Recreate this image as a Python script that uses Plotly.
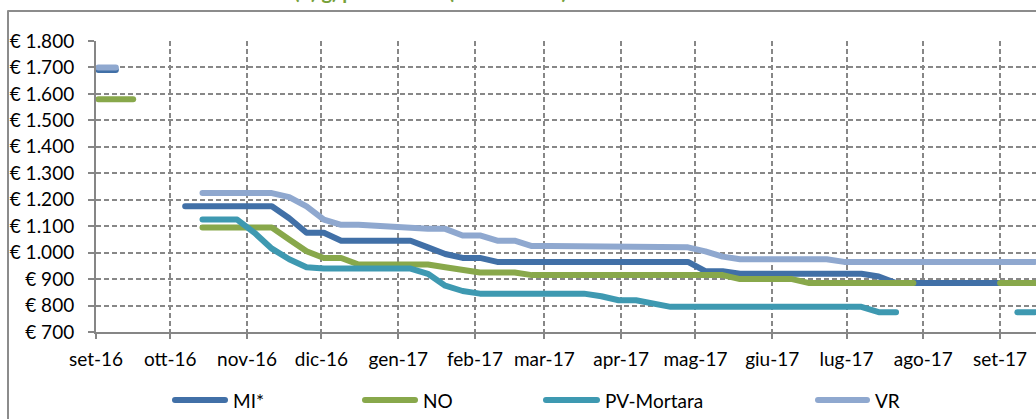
import plotly.graph_objects as go
import pandas as pd

# ---- data (weekly quotations, Fridays) ----
dates = pd.date_range("2016-09-02", periods=55, freq="7D")
N = None
mi = [1690, 1690, N, N, N,
      1175, 1175, 1175, 1175, 1175, 1175,
      1130, 1075, 1075, 1045, 1045, 1045, 1045, 1045,
      1020, 995, 980, 980,
      965, 965, 965, 965, 965, 965, 965, 965, 965, 965, 965, 965,
      930, 930,
      920, 920, 920, 920, 920, 920, 920, 920,
      910,
      885, 885, 885, 885, 885, 885, 885, 885, 885]
no = [1580, 1580, 1580, N, N, N,
      1095, 1095, 1095, 1095, 1095,
      1050, 1005, 980, 980,
      955, 955, 955, 955, 955,
      945, 933, 925, 925, 925,
      915, 915, 915, 915, 915, 915, 915, 915, 915, 915, 915, 915,
      900, 900, 900, 900,
      885, 885, 885, 885, 885, 885, 885,
      N, N, N, N,
      885, 885, 885]
pv = [N, N, N, N, N, N,
      1125, 1125, 1125,
      1075, 1015, 975, 945,
      940, 940, 940, 940, 940, 940,
      920, 875, 855,
      845, 845, 845, 845, 845, 845, 845,
      835, 820, 820, 808,
      795, 795, 795, 795, 795, 795, 795, 795, 795, 795, 795, 795,
      775, 775,
      N, N, N, N, N, N,
      775, 775]
vr = [1700, 1700, N, N, N, N,
      1225, 1225, 1225, 1225, 1225,
      1210, 1175, 1125, 1105, 1105, 1100, 1095, 1090, 1090, 1090,
      1065, 1065, 1045, 1045,
      1025, 1025, 1025, 1025, 1025, 1025, 1025, 1025, 1025,
      1020, 1005, 985,
      975, 975, 975, 975, 975, 975,
      965, 965, 965, 965, 965, 965, 965, 965, 965, 965, 965, 965]

series_names = ["MI*", "NO", "PV-Mortara", "VR"]
series_values = [mi, no, pv, vr]
series_colors = ["#4170A7", "#88A84B", "#3E99B1", "#8FA8CF"]

month_ticks = pd.date_range("2016-09-01", "2017-09-01", freq="MS")
month_labels = ["set-16", "ott-16", "nov-16", "dic-16", "gen-17", "feb-17", "mar-17",
                "apr-17", "mag-17", "giu-17", "lug-17", "ago-17", "set-17"]

title_text = "(€) g) prezzi medi (Borse Merci)"

# ---- layout geometry (pixels) ----
W, H = 1036, 419
L, R, T, B = 96, 0, 41, 87
PW, PH = W - L - R, H - T - B

def px_x(px):
    return (px - L) / PW

def px_y(py):
    return (H - B - py) / PH

FONT = "Lato, Carlito, Calibri, sans-serif"
GRID = "#878787"
AX = "#868686"

fig = go.Figure()
for name, vals, col in zip(series_names, series_values, series_colors):
    fig.add_trace(go.Scatter(
        x=dates, y=vals, name=name, mode="lines",
        line=dict(color=col, width=6), connectgaps=False,
        showlegend=False, hoverinfo="skip"))

# manual legend (long line samples like the original)
leg_lines = [(175, 225, 231), (365, 415, 421), (546, 597, 603), (818, 867, 873)]
shapes = []
annotations = []
for (x0, x1, xt), name, col in zip(leg_lines, series_names, series_colors):
    shapes.append(dict(type="line", xref="paper", yref="paper",
                       x0=px_x(x0), x1=px_x(x1), y0=px_y(400), y1=px_y(400),
                       line=dict(color=col, width=6)))
    annotations.append(dict(xref="paper", yref="paper", x=px_x(xt), y=px_y(400),
                            xanchor="left", yanchor="middle", showarrow=False,
                            text=name, font=dict(family=FONT, size=19, color="#000000")))

# outer chart border (cropped on right and bottom)
shapes.append(dict(type="rect", xref="paper", yref="paper",
                   x0=px_x(8), x1=px_x(1060), y0=px_y(11), y1=px_y(440),
                   line=dict(color="#8C8C8C", width=2), fillcolor="rgba(0,0,0,0)",
                   layer="below"))

# title (mostly outside the visible area, as in the reference)
annotations.append(dict(xref="paper", yref="paper", x=px_x(292), y=px_y(5),
                        xanchor="left", yanchor="bottom", showarrow=False,
                        text="<b>" + title_text + "</b>",
                        font=dict(family=FONT, size=20, color="#77A13B")))

fig.update_layout(
    width=W, height=H,
    margin=dict(l=L, r=R, t=T, b=B, pad=0),
    paper_bgcolor="white", plot_bgcolor="white",
    separators=",.",
    font=dict(family=FONT, size=19, color="#000000"),
    shapes=shapes, annotations=annotations,
    showlegend=False,
)
fig.update_xaxes(
    type="date", range=["2016-09-01", "2017-09-15 12:00"],
    tickvals=month_ticks, ticktext=month_labels,
    showgrid=True, gridcolor=GRID, gridwidth=1.5, griddash="5px,3px",
    showline=True, linecolor=AX, linewidth=2,
    ticks="outside", ticklen=5, tickcolor=AX, tickwidth=2,
    ticklabelstandoff=4,
    tickfont=dict(family=FONT, size=19, color="#000000"),
    zeroline=False,
)
fig.update_yaxes(
    range=[700, 1800], tick0=700, dtick=100,
    tickprefix="€ ", tickformat=",d",
    showgrid=True, gridcolor=GRID, gridwidth=1.5, griddash="5px,3px",
    showline=True, linecolor=AX, linewidth=2,
    ticks="outside", ticklen=6, tickcolor=AX, tickwidth=2,
    ticklabelstandoff=10,
    tickfont=dict(family=FONT, size=19, color="#000000"),
    zeroline=False,
)

post = (
    "document.body.style.margin='0px';"
    "document.querySelectorAll('.scatterlayer path.js-line, .shapelayer path')"
    ".forEach(function(p){p.style.strokeLinecap='round';p.style.strokeLinejoin='round';});"
)
fig.write_html("out.html", post_script=post, config={"displayModeBar": False})
